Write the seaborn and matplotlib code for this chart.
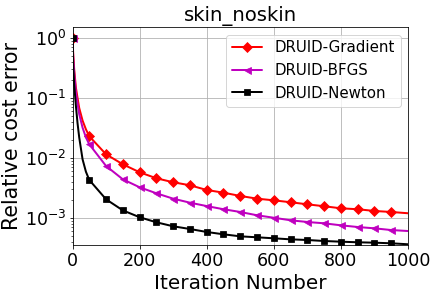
import numpy as np
import pandas as pd
import matplotlib
matplotlib.use("Agg")
import matplotlib.pyplot as plt
import seaborn as sns

iters = [0, 2, 5, 10, 15, 20, 30, 40, 50, 100, 150, 200, 250, 300, 350, 400, 450,
         500, 550, 600, 650, 700, 750, 800, 850, 900, 950, 1000]

gradient = [1.0, 0.55, 0.3, 0.15, 0.1, 0.068, 0.042, 0.03, 0.023, 0.0115, 0.00785, 0.00578,
            0.00459, 0.00394, 0.00351, 0.00293, 0.00264, 0.00233, 0.0021, 0.00197,
            0.00183, 0.00169, 0.00157, 0.00145, 0.0014, 0.00131, 0.00126, 0.0012]

bfgs = [1.0, 0.5, 0.26, 0.125, 0.08, 0.054, 0.032, 0.022, 0.0169, 0.00736, 0.00441, 0.00325,
        0.00258, 0.0021, 0.0018, 0.00158, 0.0014, 0.00126, 0.00111, 0.00101,
        0.000916, 0.000858, 0.000816, 0.000755, 0.000708, 0.000673, 0.00063, 0.000607]

newton = [1.0, 0.35, 0.17, 0.075, 0.038, 0.022, 0.0095, 0.0059, 0.0043, 0.00205, 0.00134,
          0.00103, 0.000848, 0.000728, 0.000656, 0.000585, 0.000535, 0.000495, 0.000477,
          0.000459, 0.000441, 0.00043, 0.000414, 0.000403, 0.000394, 0.000388,
          0.000379, 0.000365]

series_names = ["DRUID-Gradient", "DRUID-BFGS", "DRUID-Newton"]
title = "skin_noskin"
xlabel = "Iteration Number"
ylabel = "Relative cost error"

sns.set_style("ticks", {"axes.grid": True, "grid.color": "#b0b0b0",
                        "axes.edgecolor": "black", "xtick.color": "black",
                        "ytick.color": "black", "axes.labelcolor": "black",
                        "text.color": "black"})
plt.rcParams["font.family"] = ["DejaVu Sans"]

DPI = 72
fig = plt.figure(figsize=(434 / DPI, 297 / DPI), dpi=DPI)
ax = fig.add_axes([72.5 / 434, 1 - 245 / 297, (408 - 72.5) / 434, (245 - 27) / 297])

df = pd.DataFrame({"iter": iters, "DRUID-Gradient": gradient,
                   "DRUID-BFGS": bfgs, "DRUID-Newton": newton})
mark_idx = [i for i, v in enumerate(iters) if v % 50 == 0 and v < 1000]

styles = {"DRUID-Gradient": ("r", "D", 7), "DRUID-BFGS": ("m", "<", 7),
          "DRUID-Newton": ("k", "s", 6.5)}
for name in series_names:
    c, m, ms = styles[name]
    sns.lineplot(data=df, x="iter", y=name, ax=ax, color=c, marker=m,
                 markevery=mark_idx, markersize=ms, linewidth=2,
                 markeredgecolor=c, label=name)

ax.set_yscale("log")
ax.set_xlim(0, 1000)
ax.set_ylim(3.55e-4, 1.52)
ax.set_xticks([0, 200, 400, 600, 800, 1000])
ax.grid(True, which="major", color="#b0b0b0", linewidth=0.8)
ax.grid(False, which="minor")
ax.tick_params(axis="both", which="major", labelsize=17.5, length=3.5, width=0.8, pad=3.5)
ax.tick_params(axis="y", which="major", pad=2.5)
ax.tick_params(axis="both", which="minor", length=2.5, width=0.6)
ax.set_title(title, fontsize=19.6, pad=6)
ax.set_xlabel(xlabel, fontsize=20, labelpad=4)
ax.set_ylabel(ylabel, fontsize=20.5, labelpad=3)
for s in ax.spines.values():
    s.set_color("black")
    s.set_linewidth(0.8)
leg = ax.legend(loc="upper right", fontsize=15, frameon=True, framealpha=0.8,
                fancybox=True, borderaxespad=0.5)

fig.savefig("out.png", dpi=DPI)
